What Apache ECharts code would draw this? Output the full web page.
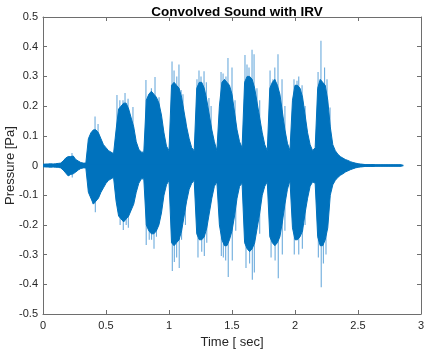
<!DOCTYPE html>
<html>
<head>
<meta charset="utf-8">
<script src="https://cdn.jsdelivr.net/npm/echarts@6/dist/echarts.min.js"></script>
<style>
html, body { margin: 0; padding: 0; background: #fff; }
#chart { width: 426px; height: 352px; }
</style>
</head>
<body>
<div id="chart"></div>
<script>
// envelope of the waveform, one pair every 0.02 s
const sampleStep = 0.02;
const upperEnv = [
    0.004, 0.005, 0.005, 0.006, 0.005, 0.006, 0.007, 0.008, 0.015, 0.025,
    0.03, 0.03, 0.032, 0.02, 0.015, 0.01, 0.008, 0.008, 0.09, 0.11,
    0.12, 0.12, 0.11, 0.09, 0.07, 0.06, 0.05, 0.045, 0.04, 0.12,
    0.19, 0.2, 0.21, 0.21, 0.19, 0.16, 0.13, 0.08, 0.055, 0.045,
    0.045, 0.22, 0.24, 0.25, 0.24, 0.23, 0.21, 0.17, 0.11, 0.065,
    0.05, 0.27, 0.28, 0.27, 0.26, 0.23, 0.18, 0.13, 0.09, 0.06,
    0.05, 0.26, 0.28, 0.28, 0.26, 0.22, 0.17, 0.12, 0.08, 0.05,
    0.2, 0.28, 0.29, 0.28, 0.27, 0.24, 0.18, 0.12, 0.08, 0.06,
    0.28, 0.3, 0.3, 0.29, 0.26, 0.21, 0.16, 0.11, 0.07, 0.05,
    0.26, 0.28, 0.29, 0.27, 0.24, 0.18, 0.12, 0.075, 0.05, 0.22,
    0.27, 0.27, 0.26, 0.23, 0.17, 0.11, 0.07, 0.05, 0.06, 0.26,
    0.29, 0.28, 0.27, 0.22, 0.13, 0.07, 0.05, 0.038, 0.03, 0.025,
    0.02, 0.017, 0.013, 0.01, 0.008, 0.006, 0.005, 0.004, 0.003, 0.003,
    0.003, 0.003, 0.002, 0.002, 0.002, 0.002, 0.002, 0.002, 0.002, 0.002,
    0.002, 0.002, 0.002, 0.001
];
const lowerEnv = [
    -0.004, -0.005, -0.005, -0.006, -0.005, -0.006, -0.006, -0.008, -0.015, -0.025,
    -0.035, -0.03, -0.028, -0.022, -0.015, -0.01, -0.008, -0.008, -0.09, -0.11,
    -0.13, -0.12, -0.11, -0.09, -0.075, -0.06, -0.05, -0.045, -0.04, -0.12,
    -0.17, -0.18, -0.19, -0.18, -0.17, -0.15, -0.13, -0.09, -0.06, -0.045,
    -0.045, -0.2, -0.22, -0.23, -0.23, -0.22, -0.2, -0.16, -0.1, -0.065,
    -0.05, -0.26, -0.27, -0.26, -0.25, -0.22, -0.17, -0.12, -0.08, -0.06,
    -0.05, -0.23, -0.25, -0.25, -0.24, -0.21, -0.16, -0.11, -0.07, -0.055,
    -0.2, -0.25, -0.27, -0.27, -0.25, -0.22, -0.17, -0.11, -0.07, -0.06,
    -0.26, -0.28, -0.29, -0.28, -0.26, -0.21, -0.16, -0.1, -0.07, -0.055,
    -0.24, -0.26, -0.27, -0.26, -0.24, -0.19, -0.13, -0.08, -0.05, -0.21,
    -0.25, -0.25, -0.24, -0.22, -0.16, -0.11, -0.07, -0.055, -0.06, -0.24,
    -0.27, -0.27, -0.25, -0.21, -0.1, -0.065, -0.05, -0.04, -0.033, -0.028,
    -0.022, -0.018, -0.014, -0.011, -0.008, -0.006, -0.005, -0.004, -0.003, -0.003,
    -0.003, -0.003, -0.002, -0.002, -0.002, -0.002, -0.002, -0.002, -0.002, -0.002,
    -0.002, -0.002, -0.002, -0.001
];
// isolated peaks that stick out of the envelope
const spikeTimes = [
    0.230, 0.413, 0.437, 0.587, 0.610, 0.635, 0.651, 0.675, 0.714, 0.817,
    0.841, 0.860, 0.889, 0.921, 1.024, 1.040, 1.062, 1.079, 1.096, 1.111,
    1.132, 1.222, 1.238, 1.254, 1.278, 1.296, 1.317, 1.334, 1.413, 1.429,
    1.452, 1.468, 1.500, 1.524, 1.603, 1.619, 1.635, 1.659, 1.675, 1.698,
    1.720, 1.802, 1.825, 1.840, 1.865, 1.897, 1.920, 1.992, 2.016, 2.030,
    2.056, 2.080, 2.183, 2.206, 2.222, 2.235, 2.254, 2.278,
    0.232, 0.397, 0.415, 0.612, 0.637, 0.660, 0.677, 0.819, 0.843, 0.862,
    0.881, 0.900, 1.026, 1.042, 1.061, 1.081, 1.100, 1.130, 1.230, 1.260,
    1.280, 1.300, 1.415, 1.431, 1.450, 1.470, 1.502, 1.530, 1.611, 1.640,
    1.661, 1.677, 1.720, 1.810, 1.842, 1.867, 1.899, 1.920, 1.994, 2.030,
    2.058, 2.080, 2.185, 2.208, 2.225, 2.246
];
const spikeValues = [
    0.042, 0.165, 0.14, 0.237, 0.22, 0.22, 0.244, 0.225, 0.197, 0.288,
    0.24, 0.26, 0.298, 0.23, 0.35, 0.32, 0.30, 0.34, 0.254, 0.24,
    0.155, 0.29, 0.32, 0.30, 0.317, 0.28, 0.227, 0.20, 0.315, 0.31,
    0.30, 0.362, 0.33, 0.22, 0.372, 0.34, 0.33, 0.39, 0.375, 0.26,
    0.22, 0.32, 0.29, 0.33, 0.375, 0.29, 0.20, 0.29, 0.285, 0.30,
    0.27, 0.20, 0.315, 0.42, 0.27, 0.33, 0.29, 0.195,
    -0.04, -0.13, -0.157, -0.20, -0.217, -0.20, -0.21, -0.268, -0.25, -0.25,
    -0.28, -0.24, -0.355, -0.325, -0.31, -0.345, -0.25, -0.20, -0.31, -0.29,
    -0.305, -0.26, -0.305, -0.31, -0.32, -0.375, -0.32, -0.22, -0.345, -0.33,
    -0.385, -0.36, -0.23, -0.31, -0.32, -0.38, -0.3, -0.22, -0.3, -0.30,
    -0.28, -0.20, -0.31, -0.41, -0.33, -0.3
];

const upper = upperEnv.map((v, i) => [i * sampleStep, v]);
const lower = lowerEnv.map((v, i) => [i * sampleStep, v]);
const spikes = spikeTimes.map((t, i) => [t, spikeValues[i]]);

const blue = '#0072BD';
const axisColor = '#6e6e6e';
const labelColor = '#262626';
const font = 'Liberation Sans, Arial, Helvetica, sans-serif';

const boxAxis = {
    axisLine: { show: true, onZero: false, lineStyle: { color: axisColor, width: 1 } },
    axisTick: { show: true, inside: true, length: 4, lineStyle: { color: axisColor } },
    splitLine: { show: false }
};

const chart = echarts.init(document.getElementById('chart'));
chart.setOption({
    animation: false,
    backgroundColor: '#fff',
    title: {
        text: 'Convolved Sound with IRV',
        left: 232,
        textAlign: 'center',
        top: 0,
        textStyle: { fontFamily: font, fontSize: 13.5, fontWeight: 'bold', color: '#000' }
    },
    grid: { left: 43, right: 5, top: 17, bottom: 38, outerBoundsMode: 'none' },
    xAxis: [Object.assign({
        type: 'value',
        min: 0,
        max: 3,
        interval: 0.5,
        name: 'Time [ sec]',
        nameLocation: 'middle',
        nameGap: 22,
        nameMoveOverlap: false,
        nameTextStyle: { fontFamily: font, fontSize: 13, color: labelColor },
        axisLabel: { fontFamily: font, fontSize: 11, color: labelColor, margin: 6 }
    }, boxAxis), Object.assign({
        type: 'value',
        position: 'top',
        min: 0,
        max: 3,
        interval: 0.5,
        axisLabel: { show: false }
    }, boxAxis)],
    yAxis: [Object.assign({
        type: 'value',
        min: -0.5,
        max: 0.5,
        interval: 0.1,
        name: 'Pressure [Pa]',
        nameLocation: 'middle',
        nameGap: 26,
        nameMoveOverlap: false,
        nameTextStyle: { fontFamily: font, fontSize: 13, color: labelColor },
        axisLabel: { fontFamily: font, fontSize: 11, color: labelColor, margin: 5 }
    }, boxAxis), Object.assign({
        type: 'value',
        position: 'right',
        min: -0.5,
        max: 0.5,
        interval: 0.1,
        axisLabel: { show: false }
    }, boxAxis)],
    series: [{
        type: 'bar',
        data: spikes,
        barWidth: 1,
        itemStyle: { color: '#5ea3d9' },
        z: 1
    }, {
        type: 'line',
        data: upper,
        showSymbol: false,
        lineStyle: { color: blue, width: 1 },
        // overlap the two halves slightly so no seam shows at zero
        areaStyle: { color: blue, opacity: 1, origin: -0.004 },
        z: 2
    }, {
        type: 'line',
        data: lower,
        showSymbol: false,
        lineStyle: { color: blue, width: 1 },
        areaStyle: { color: blue, opacity: 1, origin: 0.004 },
        z: 2
    }]
});
</script>
</body>
</html>
